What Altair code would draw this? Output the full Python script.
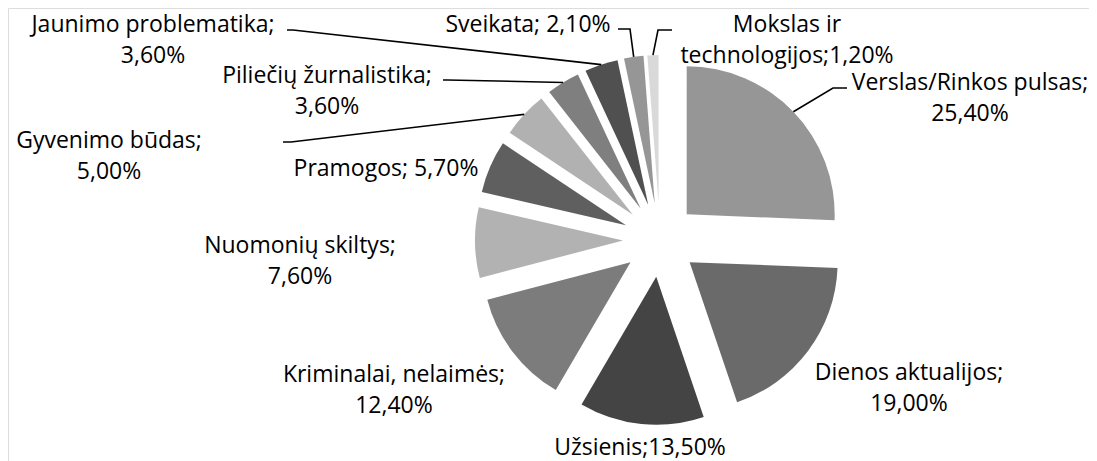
import math
import altair as alt
import pandas as pd

# ---------------- data ----------------
categories = [
    "Verslas/Rinkos pulsas", "Dienos aktualijos", "Užsienis",
    "Kriminalai, nelaimės", "Nuomonių skiltys", "Pramogos",
    "Gyvenimo būdas", "Piliečių žurnalistika", "Jaunimo problematika",
    "Sveikata", "Mokslas ir technologijos",
]
shares = [25.4, 19.0, 13.5, 12.4, 7.6, 5.7, 5.0, 3.6, 3.6, 2.1, 1.2]
display_names = [
    "Verslas/Rinkos pulsas", "Dienos aktualijos", "Užsienis",
    "Kriminalai, nelaimės", "Nuomonių skiltys", "Pramogos",
    "Gyvenimo būdas", "Piliečių žurnalistika", "Jaunimo problematika",
    "Sveikata", "Mokslas ir\ntechnologijos",
]
separators = [";\n", ";\n", ";", ";\n", ";\n", "; ", ";\n", ";\n", ";\n", "; ", ";"]

# ---------------- style / layout ----------------
colors = ["#969696", "#6a6a6a", "#444444", "#7c7c7c", "#b2b2b2", "#5f5f5f",
          "#b1b1b1", "#7f7f7f", "#505050", "#969696", "#d9d9d9"]
MARGIN = 8
CX, CY = 660 - MARGIN, 240 - MARGIN   # pie centre (plot coords)
RADIUS = 148
EXPLODE = 37
W, H = 1097 - 2 * MARGIN, 461 - MARGIN
FONT = "Open Sans"
FONT_SIZE = 23
LINE_H = 31

# label anchor (centre x, first baseline y) in page coords
label_pos = [(970, 90), (909, 380), (640, 455), (394, 382), (300, 253),
             (386, 176), (109, 148), (327, 83), (153, 32), (528, 32), (787, 32)]
# leader lines: index -> (label-side x, y, horizontal stub)
leaders = {0: (847, 88, -14), 10: (672, 30, -14), 9: (618, 29, 12),
           8: (287, 30, 6), 7: (443, 80, 4), 6: (283, 142, 8)}

# ---------------- tables ----------------
df = pd.DataFrame({"cat": categories, "value": shares, "idx": list(range(len(shares)))})

total = sum(shares)
mids = []
cum = 0.0
for v in shares:
    mids.append((cum + v / 2) / total * 2 * math.pi)
    cum += v

labels = pd.DataFrame({
    "label": [n + s + f"{v:.2f}".replace(".", ",") + "%"
              for n, s, v in zip(display_names, separators, shares)],
    "lx": [p[0] - MARGIN for p in label_pos],
    "ly": [p[1] - MARGIN for p in label_pos],
})

rows = []
for i, (x0, y0, stub) in leaders.items():
    a = mids[i]
    ox = CX + (EXPLODE + RADIUS) * math.sin(a)
    oy = CY - (EXPLODE + RADIUS) * math.cos(a)
    pts = [(x0 - MARGIN, y0 - MARGIN), (x0 + stub - MARGIN, y0 - MARGIN), (ox, oy)]
    for k, (px, py) in enumerate(pts):
        rows.append({"cat": categories[i], "o": k, "x": px, "y": py})
lines_df = pd.DataFrame(rows)

# ---------------- chart ----------------
base = alt.Chart(df).transform_joinaggregate(
    total="sum(value)"
).transform_window(
    cum="sum(value)", sort=[alt.SortField("idx")], frame=[None, 0]
).transform_calculate(
    mid="(datum.cum - datum.value / 2) / datum.total * 2 * PI",
).transform_calculate(
    px=f"{CX} + {EXPLODE} * sin(datum.mid)",
    py=f"{CY} - {EXPLODE} * cos(datum.mid)",
)

arcs = base.mark_arc(radius=RADIUS, stroke=None).encode(
    theta=alt.Theta("value:Q", stack=True),
    order=alt.Order("idx:Q"),
    color=alt.Color("cat:N", scale=alt.Scale(domain=categories, range=colors), legend=None),
    x=alt.X("px:Q", scale=None, axis=None),
    y=alt.Y("py:Q", scale=None, axis=None),
)

leader_lines = alt.Chart(lines_df).mark_line(color="black", strokeWidth=1.6).encode(
    x=alt.X("x:Q", scale=None, axis=None),
    y=alt.Y("y:Q", scale=None, axis=None),
    detail="cat:N",
    order="o:Q",
)

texts = alt.Chart(labels).mark_text(
    align="center", baseline="alphabetic", lineBreak="\n", lineHeight=LINE_H,
    font=FONT, fontSize=FONT_SIZE, color="black",
).encode(
    x=alt.X("lx:Q", scale=None, axis=None),
    y=alt.Y("ly:Q", scale=None, axis=None),
    text="label:N",
)

chart = alt.layer(arcs, leader_lines, texts).properties(
    width=W, height=H, autosize="none", padding=0
).configure_view(stroke=None).configure(background="white")

chart.save("out.html", embed_options={"renderer": "svg", "actions": False})
